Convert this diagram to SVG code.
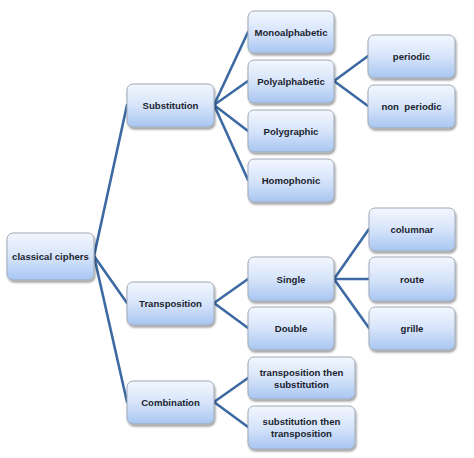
<svg xmlns="http://www.w3.org/2000/svg" width="474" height="458" viewBox="0 0 474 458">
<defs>
<linearGradient id="g" x1="0" y1="0" x2="0" y2="1">
<stop offset="0" stop-color="#f3f7fe"/>
<stop offset="0.5" stop-color="#d6e4fa"/>
<stop offset="1" stop-color="#a8c6f2"/>
</linearGradient>
<filter id="sh" x="-10%" y="-10%" width="130%" height="140%">
<feGaussianBlur in="SourceAlpha" stdDeviation="1.2"/>
<feOffset dx="0.5" dy="1.5" result="b"/>
<feComponentTransfer><feFuncA type="linear" slope="0.4"/></feComponentTransfer>
<feMerge><feMergeNode/><feMergeNode in="SourceGraphic"/></feMerge>
</filter>
</defs>
<style>
.n rect{fill:url(#g);stroke:#9fa9b8;stroke-width:1;filter:url(#sh)}
.n text{font-family:"Liberation Sans",Arial,sans-serif;font-weight:bold;font-size:9.6px;fill:#1c1f2e;text-anchor:middle;dominant-baseline:central;white-space:pre}
.c line{stroke:#3d6aa3;stroke-width:2.6;stroke-linecap:round}
</style>
<rect width="474" height="458" fill="#ffffff"/>
<g class="c">
<line x1="94" y1="256" x2="127" y2="105"/>
<line x1="94" y1="256" x2="127" y2="303"/>
<line x1="94" y1="256" x2="127" y2="402"/>
<line x1="214" y1="105" x2="248" y2="32"/>
<line x1="214" y1="105" x2="248" y2="81"/>
<line x1="214" y1="105" x2="248" y2="131"/>
<line x1="214" y1="105" x2="248" y2="180"/>
<line x1="334" y1="81" x2="368" y2="56"/>
<line x1="334" y1="81" x2="368" y2="106"/>
<line x1="214" y1="303" x2="248" y2="279"/>
<line x1="214" y1="303" x2="248" y2="328"/>
<line x1="334" y1="279" x2="369" y2="229"/>
<line x1="334" y1="279" x2="369" y2="279"/>
<line x1="334" y1="279" x2="369" y2="328"/>
<line x1="214" y1="402" x2="248" y2="378"/>
<line x1="214" y1="402" x2="248" y2="427"/>
</g>
<g id="classical" class="n"><rect x="7" y="233" width="87" height="47" rx="6"/><text x="50.5" y="256">classical ciphers</text></g>
<g id="substitution" class="n"><rect x="127" y="84" width="87" height="43" rx="6"/><text x="170.5" y="105.5">Substitution</text></g>
<g id="transposition" class="n"><rect x="127" y="282" width="87" height="43" rx="6"/><text x="170.5" y="303.5">Transposition</text></g>
<g id="combination" class="n"><rect x="127" y="381" width="87" height="43" rx="6"/><text x="170.5" y="402.5">Combination</text></g>
<g id="mono" class="n"><rect x="248" y="11" width="86" height="42" rx="6"/><text x="291" y="32">Monoalphabetic</text></g>
<g id="poly" class="n"><rect x="248" y="60" width="86" height="43" rx="6"/><text x="291" y="81.5">Polyalphabetic</text></g>
<g id="polygraphic" class="n"><rect x="248" y="110" width="86" height="42" rx="6"/><text x="291" y="131">Polygraphic</text></g>
<g id="homophonic" class="n"><rect x="248" y="159" width="86" height="43" rx="6"/><text x="291" y="180.5">Homophonic</text></g>
<g id="periodic" class="n"><rect x="368" y="35" width="87" height="43" rx="6"/><text x="411.5" y="56.5">periodic</text></g>
<g id="nonperiodic" class="n"><rect x="368" y="85" width="87" height="43" rx="6"/><text x="411.5" y="106.5" xml:space="preserve">non  periodic</text></g>
<g id="single" class="n"><rect x="248" y="257" width="86" height="44" rx="6"/><text x="291" y="279">Single</text></g>
<g id="double" class="n"><rect x="248" y="307" width="86" height="43" rx="6"/><text x="291" y="328.5">Double</text></g>
<g id="columnar" class="n"><rect x="369" y="208" width="86" height="43" rx="6"/><text x="412" y="229.5">columnar</text></g>
<g id="route" class="n"><rect x="369" y="257" width="86" height="44" rx="6"/><text x="412" y="279">route</text></g>
<g id="grille" class="n"><rect x="369" y="307" width="86" height="43" rx="6"/><text x="412" y="328.5">grille</text></g>
<g id="tts" class="n"><rect x="248" y="357" width="107" height="42" rx="6"/><text x="301.5" y="372">transposition then</text><text x="301.5" y="384.5">substitution</text></g>
<g id="stt" class="n"><rect x="248" y="406" width="107" height="43" rx="6"/><text x="301.5" y="421">substitution then</text><text x="301.5" y="433.5">transposition</text></g>
</svg>
